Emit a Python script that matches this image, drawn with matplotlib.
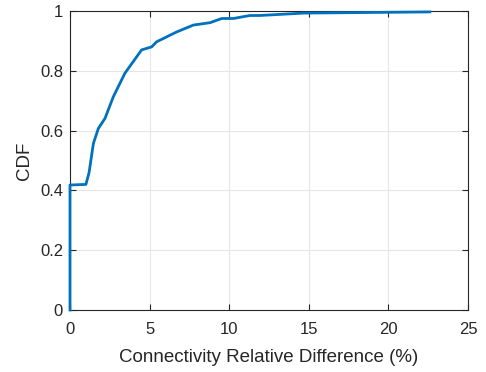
import numpy as np
from matplotlib import pyplot as plt

plt.rcParams['font.family'] = ['Liberation Sans', 'DejaVu Sans']

# CDF curve (relative difference in %, cumulative fraction)
diff = np.array([0, 0, 1.0, 1.2, 1.47, 1.78, 2.2, 2.72, 3.45, 4.5, 5.13, 5.44,
                 6.7, 7.75, 8.8, 9.53, 10.26, 11.3, 11.93, 14.65, 22.6])
cdf = np.array([0, 0.418, 0.42, 0.46, 0.557, 0.607, 0.641, 0.713, 0.792, 0.87, 0.88, 0.897,
                0.93, 0.953, 0.961, 0.975, 0.975, 0.985, 0.985, 0.993, 0.997])

xticks = [0, 5, 10, 15, 20, 25]
yticks = [0, 0.2, 0.4, 0.6, 0.8, 1]

fig = plt.figure(figsize=(4.86, 3.72), dpi=100)
ax = fig.add_axes([0.144, 0.1667, 0.819, 0.8037])

ax.plot(diff, cdf, color='#0072BD', lw=2, zorder=5, clip_on=False)

ax.set_xlim(0, 25)
ax.set_ylim(0, 1)
ax.set_xticks(xticks)
ax.set_yticks(yticks)
ax.set_xticklabels([str(t) for t in xticks])
ax.set_yticklabels(['0', '0.2', '0.4', '0.6', '0.8', '1'])
ax.grid(True, color='#e6e6e6', lw=0.8)
ax.set_axisbelow(True)
ax.tick_params(direction='in', length=4, labelsize=12, colors='#262626', top=True, right=True,
               labeltop=False, labelright=False)
ax.tick_params(axis='x', pad=9)
ax.tick_params(axis='y', pad=5)
for s in ax.spines.values():
    s.set_color('#262626')
    s.set_linewidth(0.8)

ax.set_xlabel('Connectivity Relative Difference (%)', fontsize=13.5, color='#262626', labelpad=8)
ax.set_ylabel('CDF', fontsize=13.5, color='#262626', labelpad=5)

fig.savefig('out.png', dpi=100)
